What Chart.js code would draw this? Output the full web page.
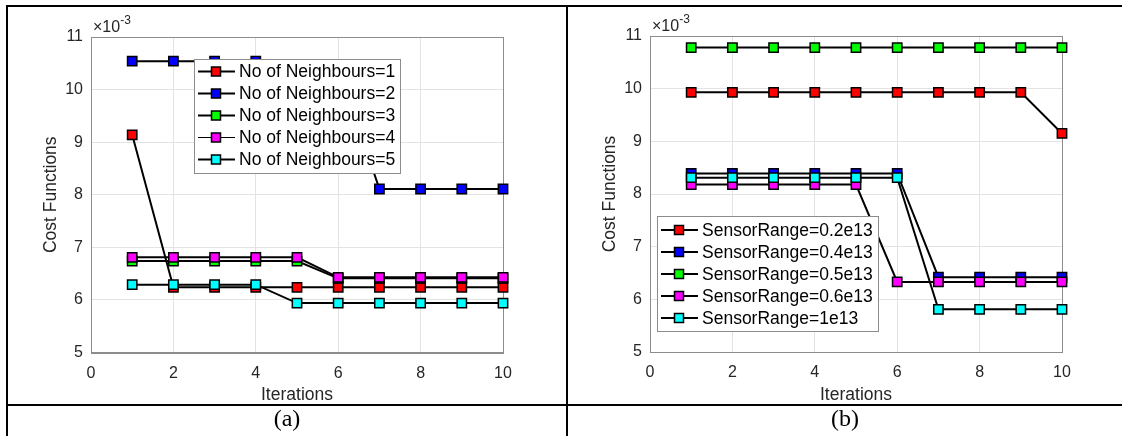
<!DOCTYPE html>
<html>
<head>
<meta charset="utf-8">
<script src="https://cdn.jsdelivr.net/npm/chart.js@4.4.0/dist/chart.umd.min.js"></script>
<style>
  body { margin: 0; background: #fff; width: 1122px; height: 436px; position: relative; overflow: hidden; }
  .cv { position: absolute; top: 0; width: 561px; height: 436px; }
  .rule { position: absolute; background: #000; z-index: 2; }
  .cap { position: absolute; top: 405px; height: 31px; line-height: 27px; text-align: center;
         font-family: "Liberation Serif", "Times New Roman", serif; font-size: 24px; color: #000; }
</style>
</head>
<body>
<div class="cv" style="left:0"><canvas id="chartA"></canvas></div>
<div class="cv" style="left:559px"><canvas id="chartB"></canvas></div>

<div class="rule" style="left:6px;top:5px;right:0;height:2px"></div>
<div class="rule" style="left:6px;top:5px;width:2px;bottom:0"></div>
<div class="rule" style="left:566px;top:5px;width:2px;bottom:0"></div>
<div class="rule" style="left:6px;top:404px;right:0;height:2px"></div>
<div class="cap" style="left:8px;width:558px">(a)</div>
<div class="cap" style="left:568px;width:554px">(b)</div>

<script>
// values (units of 1e-3)
const iterations = [1, 2, 3, 4, 5, 6, 7, 8, 9, 10];
const xTicks = [0, 2, 4, 6, 8, 10];
const yTicks = [5, 6, 7, 8, 9, 10, 11];

const neighbourLabels = ["No of Neighbours=1", "No of Neighbours=2", "No of Neighbours=3",
                         "No of Neighbours=4", "No of Neighbours=5"];
const neighbours1 = [9.14, 6.24, 6.24, 6.24, 6.24, 6.24, 6.24, 6.24, 6.24, 6.24];
const neighbours2 = [10.54, 10.54, 10.54, 10.54, 10.44, 10.44, 8.11, 8.11, 8.11, 8.11];
const neighbours3 = [6.74, 6.74, 6.74, 6.74, 6.74, 6.41, 6.41, 6.41, 6.41, 6.41];
const neighbours4 = [6.81, 6.81, 6.81, 6.81, 6.81, 6.43, 6.43, 6.43, 6.43, 6.43];
const neighbours5 = [6.29, 6.29, 6.29, 6.29, 5.94, 5.94, 5.94, 5.94, 5.94, 5.94];

const rangeLabels = ["SensorRange=0.2e13", "SensorRange=0.4e13", "SensorRange=0.5e13",
                     "SensorRange=0.6e13", "SensorRange=1e13"];
const range02 = [9.93, 9.93, 9.93, 9.93, 9.93, 9.93, 9.93, 9.93, 9.93, 9.15];
const range04 = [8.39, 8.39, 8.39, 8.39, 8.39, 8.39, 6.42, 6.42, 6.42, 6.42];
const range05 = [10.78, 10.78, 10.78, 10.78, 10.78, 10.78, 10.78, 10.78, 10.78, 10.78];
const range06 = [8.18, 8.18, 8.18, 8.18, 8.18, 6.33, 6.33, 6.33, 6.33, 6.33];
const range1 = [8.31, 8.31, 8.31, 8.31, 8.31, 8.31, 5.81, 5.81, 5.81, 5.81];

const markerColors = ["#ff0000", "#0000ff", "#00ff00", "#ff00ff", "#00ffff"];

const FONT = '"Liberation Sans", Arial, sans-serif';
const TEXT = "#262626";
const AXIS = "#8c8c8c";

function makeDatasets(labels, series) {
  return series.map((vals, i) => ({
    label: labels[i],
    data: iterations.map((x, j) => ({ x: x, y: vals[j] })),
    borderColor: "#000",
    borderWidth: 2,
    pointStyle: "rect",
    pointRadius: 6.6,
    pointBackgroundColor: markerColors[i],
    pointBorderColor: "#000",
    pointBorderWidth: 1.5,
    tension: 0,
    clip: false,
    order: series.length - i,
  }));
}

// frame round the axes and the x10^-3 multiplier
const axesBox = {
  id: "axesBox",
  beforeDatasetsDraw(chart) {
    const { ctx, chartArea: a } = chart;
    ctx.save();
    ctx.strokeStyle = AXIS;
    ctx.lineWidth = 1;
    ctx.strokeRect(Math.round(a.left) + 0.5, Math.round(a.top) + 0.5,
                   Math.round(a.right - a.left), Math.round(a.bottom - a.top));
    ctx.fillStyle = TEXT;
    ctx.font = "16px " + FONT;
    ctx.textBaseline = "alphabetic";
    ctx.fillText("\u00d710", a.left + 2, a.top - 5);
    const w = ctx.measureText("\u00d710").width;
    ctx.font = "12px " + FONT;
    ctx.fillText("-3", a.left + 2 + w, a.top - 13);
    ctx.restore();
  },
};

// legend box placed inside the axes
const boxLegend = {
  id: "boxLegend",
  afterDatasetsDraw(chart, args, o) {
    const { ctx, chartArea: a } = chart;
    const x = Math.round(a.left + o.dx), y = Math.round(a.top + o.dy);
    ctx.save();
    ctx.fillStyle = "#fff";
    ctx.fillRect(x, y, o.w, o.h);
    ctx.strokeStyle = AXIS;
    ctx.lineWidth = 1;
    ctx.strokeRect(x + 0.5, y + 0.5, o.w, o.h);
    ctx.font = "17.5px " + FONT;
    ctx.textBaseline = "middle";
    chart.data.datasets.forEach((ds, i) => {
      const ry = y + o.firstRow + i * o.rowGap;
      ctx.strokeStyle = "#000";
      ctx.lineWidth = i === o.thinRow ? 1 : 2;
      ctx.beginPath();
      ctx.moveTo(x + 4, ry);
      ctx.lineTo(x + 41, ry);
      ctx.stroke();
      ctx.fillStyle = ds.pointBackgroundColor;
      ctx.fillRect(x + 22 - 4.5, ry - 4.5, 9, 9);
      ctx.lineWidth = 1.5;
      ctx.strokeRect(x + 22 - 4.5, ry - 4.5, 9, 9);
      ctx.fillStyle = "#000";
      ctx.fillText(ds.label, x + 45, ry + 1);
    });
    ctx.restore();
  },
};

function makeConfig(labels, series, legendPos, top, xHeight) {
  return {
    type: "line",
    data: { datasets: makeDatasets(labels, series) },
    plugins: [axesBox, boxLegend],
    options: {
      responsive: true,
      maintainAspectRatio: false,
      animation: false,
      layout: { padding: { left: 0, top: top, right: 58, bottom: 0 } },
      plugins: {
        legend: { display: false },
        tooltip: { enabled: false },
        boxLegend: legendPos,
      },
      scales: {
        x: {
          type: "linear",
          min: 0,
          max: 10,
          afterBuildTicks: (s) => { s.ticks = xTicks.map((v) => ({ value: v })); },
          afterFit: (s) => { s.height = xHeight; },
          ticks: { padding: 11, color: TEXT, font: { family: FONT, size: 16 } },
          grid: { color: "#e3e3e3", drawTicks: false },
          border: { color: AXIS },
          title: { display: true, text: "Iterations", color: TEXT,
                   font: { family: FONT, size: 17.5 }, padding: { top: 0, bottom: 30 } },
        },
        y: {
          type: "linear",
          min: 5,
          max: 11,
          afterBuildTicks: (s) => { s.ticks = yTicks.map((v) => ({ value: v })); },
          afterFit: (s) => { s.width = 91; },
          ticks: { padding: 8, color: TEXT, font: { family: FONT, size: 16 } },
          grid: { color: "#e3e3e3", drawTicks: false },
          border: { color: AXIS },
          title: { display: true, text: "Cost Functions", color: TEXT,
                   font: { family: FONT, size: 17.5 }, padding: { top: 41, bottom: 0 } },
        },
      },
    },
  };
}

const chartA = new Chart(document.getElementById("chartA"),
  makeConfig(neighbourLabels, [neighbours1, neighbours2, neighbours3, neighbours4, neighbours5],
             { dx: 103, dy: 22, w: 206, h: 114, firstRow: 12.5, rowGap: 22, thinRow: 3 }, 37, 83.5));

const chartB = new Chart(document.getElementById("chartB"),
  makeConfig(rangeLabels, [range02, range04, range05, range06, range1],
             { dx: 6.5, dy: 180, w: 221, h: 115, firstRow: 14, rowGap: 22, thinRow: -1 }, 36, 84));
</script>
</body>
</html>
